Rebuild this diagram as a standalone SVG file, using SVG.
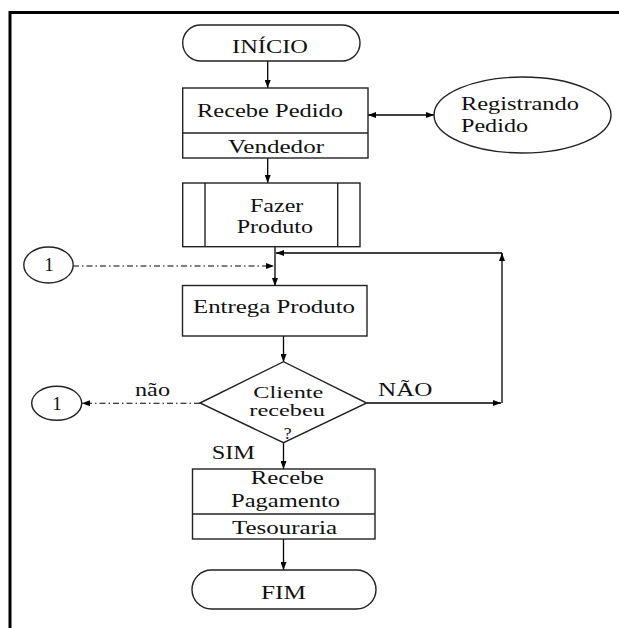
<svg xmlns="http://www.w3.org/2000/svg" width="619" height="628" viewBox="0 0 619 628">
  <defs>
    <marker id="ah" markerUnits="userSpaceOnUse" markerWidth="8" markerHeight="6" refX="8" refY="3" orient="auto-start-reverse">
      <path d="M0,0 L8,3 L0,6 z" fill="#000"/>
    </marker>
  </defs>
  <style>
    .shape { fill: #fff; stroke: #222; stroke-width: 1.4; }
    .line { fill: none; stroke: #000; stroke-width: 1.3; }
    .dash { fill: none; stroke: #000; stroke-width: 1.1; stroke-dasharray: 6 3 1.5 3; }
    text { font-family: "Liberation Serif", "Times New Roman", serif; font-size: 19px; fill: #111; }
    .small { font-size: 17.5px; }
  </style>
  <rect width="619" height="628" fill="#fff"/>
  <g id="frame">
    <path d="M10,628 V12.5 H619" fill="none" stroke="#000" stroke-width="3"/>
  </g>

  <g id="connectors">
    <path class="line" d="M267.7,61 V88" marker-end="url(#ah)"/>
    <path class="line" d="M368,115 H434" marker-start="url(#ah)" marker-end="url(#ah)"/>
    <path class="line" d="M267.7,158 V183" marker-end="url(#ah)"/>
    <path class="line" d="M275,247 V286" marker-end="url(#ah)"/>
    <path class="dash" d="M73,266 H274" marker-end="url(#ah)"/>
    <path class="line" d="M283.5,336 V362" marker-end="url(#ah)"/>
    <path class="line" d="M367,403 H501" marker-end="url(#ah)"/>
    <path class="line" d="M502,403 V253" marker-end="url(#ah)"/>
    <path class="line" d="M502,253 H276" marker-end="url(#ah)"/>
    <path class="dash" d="M200,403.3 H82" marker-end="url(#ah)"/>
    <path class="line" d="M283.5,443 V469" marker-end="url(#ah)"/>
    <path class="line" d="M283.5,539 V570" marker-end="url(#ah)"/>
    <text x="135" y="395.7" textLength="35" lengthAdjust="spacingAndGlyphs">não</text>
    <text x="378" y="395.7" textLength="54.5" lengthAdjust="spacingAndGlyphs">NÃO</text>
    <text x="211.7" y="459" textLength="43.3" lengthAdjust="spacingAndGlyphs">SIM</text>
  </g>

  <g id="inicio">
    <rect class="shape" x="182.7" y="25" width="177.3" height="36" rx="18" ry="18"/>
    <text x="232" y="53.3" textLength="76" lengthAdjust="spacingAndGlyphs">INÍCIO</text>
  </g>

  <g id="recebe-pedido">
    <rect class="shape" x="182.7" y="88" width="185.3" height="70"/>
    <line class="shape" x1="182.7" y1="133" x2="368" y2="133"/>
    <text x="197" y="117" textLength="146" lengthAdjust="spacingAndGlyphs">Recebe Pedido</text>
    <text x="228" y="153" textLength="96" lengthAdjust="spacingAndGlyphs">Vendedor</text>
  </g>

  <g id="registrando-pedido">
    <ellipse class="shape" cx="522.5" cy="115" rx="88.5" ry="38"/>
    <text x="461" y="110" textLength="118" lengthAdjust="spacingAndGlyphs">Registrando</text>
    <text x="461" y="131.7" textLength="67" lengthAdjust="spacingAndGlyphs">Pedido</text>
  </g>

  <g id="fazer-produto">
    <rect class="shape" x="182.7" y="183" width="177.3" height="63.7"/>
    <line class="shape" x1="205" y1="183" x2="205" y2="246.7"/>
    <line class="shape" x1="337.7" y1="183" x2="337.7" y2="246.7"/>
    <text x="250" y="211.7" textLength="53.3" lengthAdjust="spacingAndGlyphs">Fazer</text>
    <text x="236.7" y="233" textLength="76.3" lengthAdjust="spacingAndGlyphs">Produto</text>
  </g>

  <g id="conector-1a">
    <ellipse class="shape" cx="48.5" cy="265" rx="24.7" ry="18"/>
    <text x="49" y="271" text-anchor="middle">1</text>
  </g>

  <g id="entrega-produto">
    <rect class="shape" x="182.5" y="285.5" width="184.5" height="50.5"/>
    <text x="193" y="312.7" textLength="162" lengthAdjust="spacingAndGlyphs">Entrega Produto</text>
  </g>

  <g id="cliente-recebeu">
    <polygon class="shape" points="200,403 283.5,361.7 366.7,403 283.5,442.7"/>
    <text class="small" x="253.3" y="398.3" textLength="70" lengthAdjust="spacingAndGlyphs">Cliente</text>
    <text class="small" x="249.3" y="416" textLength="75.7" lengthAdjust="spacingAndGlyphs">recebeu</text>
    <text class="small" x="287.7" y="439" text-anchor="middle">?</text>
  </g>

  <g id="conector-1b">
    <ellipse class="shape" cx="56.7" cy="403.3" rx="25" ry="17"/>
    <text x="57" y="409.5" text-anchor="middle">1</text>
  </g>

  <g id="recebe-pagamento">
    <rect class="shape" x="192.5" y="469" width="182.5" height="70"/>
    <line class="shape" x1="192.5" y1="514" x2="375" y2="514"/>
    <text x="250.7" y="484" textLength="73" lengthAdjust="spacingAndGlyphs">Recebe</text>
    <text x="231" y="506.7" textLength="109" lengthAdjust="spacingAndGlyphs">Pagamento</text>
    <text x="232" y="534" textLength="105" lengthAdjust="spacingAndGlyphs">Tesouraria</text>
  </g>

  <g id="fim">
    <rect class="shape" x="192" y="570" width="184" height="39" rx="19.5" ry="19.5"/>
    <text x="261" y="599" textLength="45" lengthAdjust="spacingAndGlyphs">FIM</text>
  </g>
</svg>
